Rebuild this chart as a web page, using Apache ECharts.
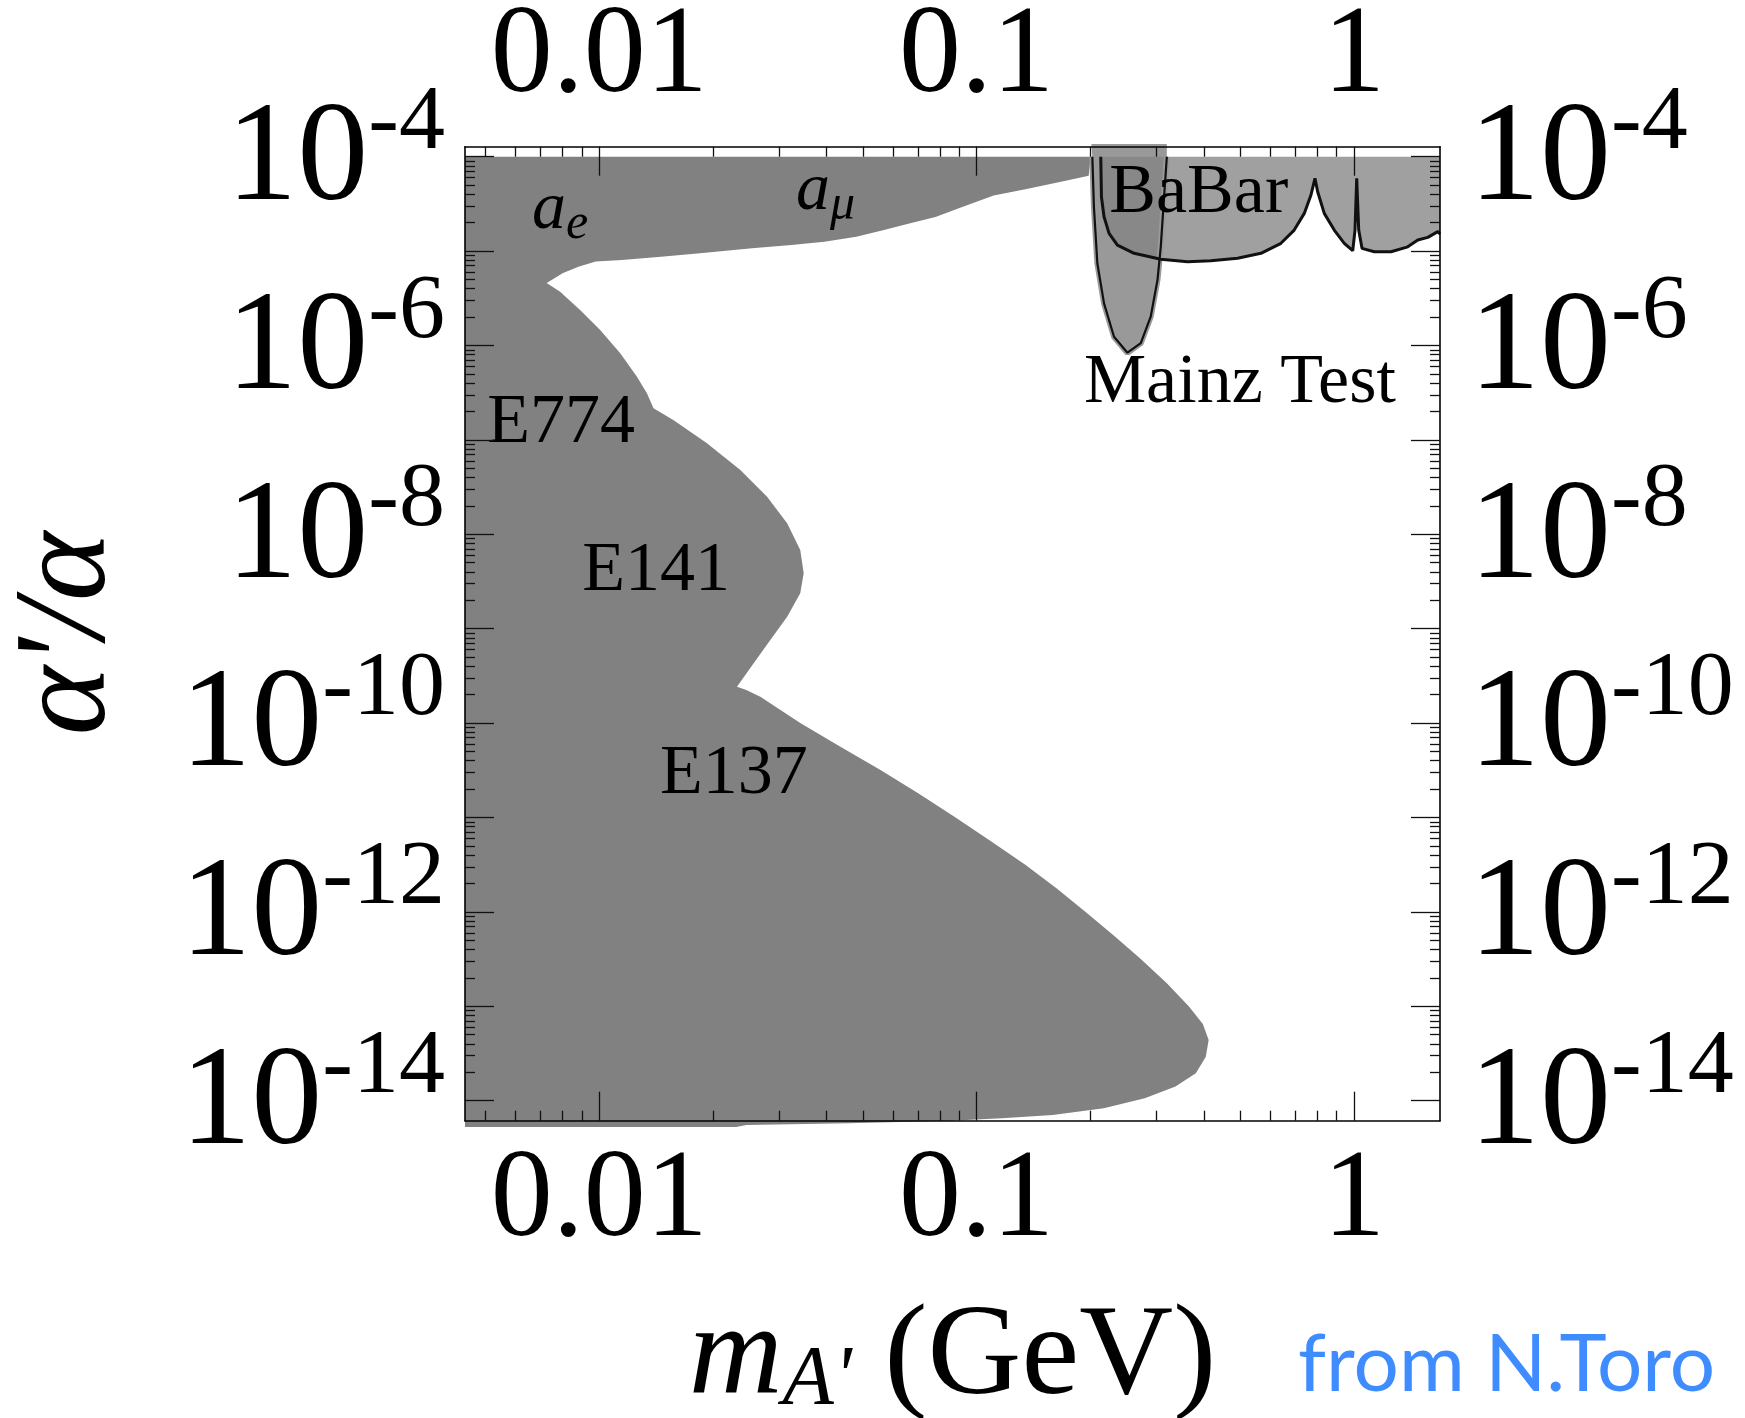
<!DOCTYPE html>
<html><head><meta charset="utf-8">
<script src="https://cdn.jsdelivr.net/npm/echarts@6/dist/echarts.min.js"></script>
<style>html,body{margin:0;padding:0;background:#fff;}#c{width:1745px;height:1418px;}</style>
</head><body><div id="c"></div>
<script>
// ---------- axes ----------
const X_MIN = 0.00441, X_MAX = 1.69;
const Y_MIN = 6.14e-15, Y_MAX = 1.277e-4;
const X_MAJOR = [0.01, 0.1, 1];
const X_DECADES = [0.001, 0.01, 0.1];
const Y_MAJOR = [1e-4, 1e-5, 1e-6, 1e-7, 1e-8, 1e-9, 1e-10, 1e-11, 1e-12, 1e-13, 1e-14];
const Y_LABELED = [1e-4, 1e-6, 1e-8, 1e-10, 1e-12, 1e-14];
const MANTISSA = [2, 3, 4, 5, 6, 7, 8, 9];

// ---------- excluded region: a_e, a_mu, E774, E141, E137 (outer boundary) ----------
const MAIN_M = [X_MIN, 0.2006, 0.1982, 0.1722, 0.1357, 0.1110, 0.0912, 0.0778, 0.0663, 0.0565, 0.0480,
  0.0395, 0.0323, 0.0254, 0.0185, 0.01458, 0.01148, 0.00979, 0.00885, 0.00802, 0.00726,
  0.00788, 0.0089, 0.01006, 0.01137, 0.01259, 0.01338, 0.01393, 0.01575, 0.0193, 0.02366,
  0.02785, 0.03148, 0.0341, 0.03482, 0.0341, 0.03148, 0.02841, 0.02566, 0.02318,
  0.02454, 0.02673, 0.0341, 0.04357, 0.05564, 0.07018, 0.08797, 0.1089, 0.1349, 0.1631, 0.1945,
  0.2309, 0.2723, 0.3192, 0.3649, 0.3976, 0.4120, 0.4049, 0.3810, 0.3365, 0.2790, 0.2172,
  0.1591, 0.1165, 0.0853, 0.04575, 0.02454, 0.02308, X_MIN];
const MAIN_A = [1e-4, 1e-4, 6.29e-5, 5.57e-5, 4.56e-5, 3.88e-5, 2.92e-5, 2.30e-5, 1.96e-5, 1.66e-5, 1.42e-5,
  1.26e-5, 1.16e-5, 1.07e-5, 9.48e-6, 8.74e-6, 8.07e-6, 7.74e-6, 6.87e-6, 5.85e-6, 4.59e-6,
  3.71e-6, 2.38e-6, 1.46e-6, 8.27e-7, 4.67e-7, 3.12e-7, 2.16e-7, 1.62e-7, 9.2e-8, 4.8e-8,
  2.5e-8, 1.31e-8, 6.82e-9, 3.86e-9, 2.37e-9, 1.34e-9, 7.59e-10, 4.3e-10, 2.43e-10,
  2.24e-10, 1.90e-10, 1e-10, 5.62e-11, 3.18e-11, 1.80e-11, 1e-11, 5.64e-12, 3.14e-12, 1.77e-12, 1e-12,
  5.62e-13, 3.17e-13, 1.76e-13, 1e-13, 6.49e-14, 4.4e-14, 2.92e-14, 1.95e-14, 1.41e-14, 1.06e-14, 8.31e-15,
  7.06e-15, 6.51e-15, 6.14e-15, 5.76e-15, 5.53e-15, 5.26e-15, 5.26e-15];

// ---------- Mainz test (projected) ----------
const MAINZ_M = [0.2014, 0.2026, 0.2046, 0.2089, 0.2176, 0.2313, 0.2510, 0.2723, 0.2893, 0.3015, 0.3076, 0.3139, 0.3192, 0.3192];
const MAINZ_A = [1.365e-4, 1e-4, 2.95e-5, 7.43e-6, 2.80e-6, 1.24e-6, 8.39e-7, 1.06e-6, 2.02e-6, 4.94e-6, 1.11e-5, 3.77e-5, 1e-4, 1.365e-4];

// ---------- BaBar bound ----------
const BABAR_M = [0.2133, 0.2142, 0.2176, 0.2244, 0.2361, 0.2615, 0.3076, 0.3622, 0.4175, 0.4914, 0.5668,
  0.6403, 0.6944, 0.7383, 0.7691, 0.7881, 0.8012, 0.8341, 0.8865, 0.9425, 0.9922, 1.0062, 1.0167,
  1.0292, 1.0501, 1.1318, 1.2535, 1.3879, 1.4757, 1.5690, 1.6672, 1.69];
const BABAR_A = [1e-4, 3.77e-5, 2.31e-5, 1.54e-5, 1.16e-5, 9.48e-6, 8.19e-6, 7.72e-6, 7.91e-6, 8.39e-6, 9.48e-6,
  1.21e-5, 1.67e-5, 2.51e-5, 3.93e-5, 5.9e-5, 4.26e-5, 2.51e-5, 1.67e-5, 1.21e-5, 1.01e-5, 1.67e-5, 5.9e-5,
  1.67e-5, 1.07e-5, 9.85e-6, 9.85e-6, 1.11e-5, 1.31e-5, 1.40e-5, 1.61e-5, 1.52e-5];

// ---------- region labels ----------
const LABEL_TEXT = ['{a|a}{s|e}', '{a|a}{s|μ}', 'BaBar', 'Mainz Test', 'E774', 'E141', 'E137'];
const LABEL_M = [0.00788, 0.03977, 0.3879, 0.4984, 0.00793, 0.01416, 0.02274];
const LABEL_A = [2.55e-5, 4.0e-5, 4.06e-5, 3.96e-7, 1.49e-7, 3.99e-9, 2.82e-11];

const SERIF = 'Liberation Serif';
const xMinor = [].concat(...X_DECADES.map(d => MANTISSA.map(k => +(k * d).toPrecision(3))));
const yMinor = [].concat(...Y_MAJOR.slice(1).map(d => MANTISSA.map(k => +(k * d).toPrecision(3))));

function pairs(M, A) { return M.map((m, i) => [m, A[i]]); }
function polygonSeries(M, A, style, z) {
  return {
    type: 'custom', z: z, clip: false, silent: true, animation: false,
    xAxisIndex: 0, yAxisIndex: 0,
    data: pairs(M, A),
    renderItem: function (params, api) {
      if (params.dataIndex !== 0) return null;
      const p = M.map((m, i) => api.coord([m, A[i]]));
      return { type: 'polygon', shape: { points: p }, style: style };
    }
  };
}

const tickLine = { color: '#111', width: 1.3 };
const frameLine = { show: true, onZero: false, lineStyle: { color: '#000', width: 1.6 } };
const yRich = {
  b: { fontFamily: SERIF, fontSize: 142, verticalAlign: 'middle', color: '#000' },
  e: { fontFamily: SERIF, fontSize: 92, lineHeight: 168, verticalAlign: 'top', color: '#000' }
};
function yFmt(v) {
  const e = Math.round(Math.log10(v));
  return '{b|10}{e|-' + Math.abs(e) + '}';
}
function xFmt(v) { return String(+(+v).toPrecision(3)); }
const xLab = { fontFamily: SERIF, fontSize: 124, color: '#000' };

function xAxis(pos, major, extra) {
  return Object.assign({
    type: 'log', logBase: 10, min: X_MIN, max: X_MAX, position: pos, gridIndex: 0, z: 10,
    axisLine: major ? frameLine : { show: false },
    axisTick: { show: true, inside: true, length: major ? 29 : 10, customValues: major ? X_MAJOR : xMinor, lineStyle: tickLine },
    axisLabel: major ? Object.assign({ customValues: X_MAJOR, formatter: xFmt, margin: pos === 'top' ? 26 : 20 }, xLab) : { show: false },
    splitLine: { show: false }, minorTick: { show: false }, axisPointer: { show: false }
  }, extra || {});
}
function yAxis(pos, major, extra) {
  return Object.assign({
    type: 'log', logBase: 10, min: Y_MIN, max: Y_MAX, position: pos, gridIndex: 0, z: 10,
    axisLine: major ? frameLine : { show: false },
    axisTick: { show: true, inside: true, length: major ? 29 : 10, customValues: major ? Y_MAJOR : yMinor, lineStyle: tickLine },
    axisLabel: major ? { customValues: Y_LABELED, formatter: yFmt, rich: yRich, padding: [10, 0, 0, 0], margin: pos === 'left' ? 20 : 29 } : { show: false },
    splitLine: { show: false }, minorTick: { show: false }, axisPointer: { show: false }
  }, extra || {});
}

const option = {
  backgroundColor: '#fff',
  animation: false,
  grid: { left: 465, top: 146.7, right: 305, bottom: 297.3, containLabel: false, outerBoundsMode: 'none' },
  xAxis: [
    xAxis('bottom', true, {
      name: "{m|m}{s|A'}{n| (GeV)}", nameLocation: 'middle', nameGap: 173,
      nameTextStyle: { rich: {
        m: { fontFamily: SERIF, fontStyle: 'italic', fontSize: 130, lineHeight: 130, verticalAlign: 'top', color: '#000' },
        s: { fontFamily: SERIF, fontStyle: 'italic', fontSize: 84, lineHeight: 66, verticalAlign: 'bottom', color: '#000' },
        n: { fontFamily: SERIF, fontSize: 130, lineHeight: 130, verticalAlign: 'top', color: '#000' }
      } }
    }),
    xAxis('top', true),
    xAxis('bottom', false),
    xAxis('top', false)
  ],
  yAxis: [
    yAxis('left', true, {
      name: "α'/α", nameLocation: 'middle', nameRotate: 90, nameGap: 330,
      nameTextStyle: { fontFamily: SERIF, fontStyle: 'italic', fontSize: 132, color: '#000' }
    }),
    yAxis('right', true),
    yAxis('left', false),
    yAxis('right', false)
  ],
  graphic: [{
    type: 'text', left: 1298, top: 1325, z: 20,
    style: { text: 'from N.Toro', font: '80px Lato', fill: '#3f8cff' }
  }],
  series: [
    polygonSeries(MAIN_M, MAIN_A, { fill: '#818181' }, 2),
    polygonSeries(BABAR_M.concat([X_MAX]), BABAR_A.concat([1e-4]), { fill: '#a0a0a0' }, 3),
    polygonSeries(MAINZ_M, MAINZ_A, { fill: 'rgba(131,131,131,0.82)' }, 4),
    { type: 'line', z: 5, data: pairs(MAINZ_M.slice(1, -1), MAINZ_A.slice(1, -1)), symbol: 'none', silent: true,
      lineStyle: { color: '#9a9a9a', width: 6 }, clip: false },
    { type: 'line', z: 5, data: pairs(MAINZ_M.slice(1, -1), MAINZ_A.slice(1, -1)), symbol: 'none', silent: true,
      lineStyle: { color: '#111', width: 2.2 }, clip: false },
    { type: 'line', z: 6, data: pairs(BABAR_M, BABAR_A), symbol: 'none', silent: true,
      lineStyle: { color: '#111', width: 3 } },
    {
      type: 'custom', z: 7, clip: false, silent: true,
      data: LABEL_M.map((m, i) => [m, LABEL_A[i], i]),
      renderItem: function (params, api) {
        const i = params.dataIndex;
        const c = api.coord([LABEL_M[i], LABEL_A[i]]);
        return {
          type: 'text',
          style: {
            x: c[0], y: c[1], text: LABEL_TEXT[i], align: 'center', verticalAlign: 'middle',
            fill: '#000', font: '70px "Liberation Serif"',
            rich: {
              a: { fontFamily: SERIF, fontStyle: 'italic', fontSize: 68, lineHeight: 74, verticalAlign: 'top', fill: '#000' },
              s: { fontFamily: SERIF, fontStyle: 'italic', fontSize: 50, verticalAlign: 'bottom', fill: '#000' }
            }
          }
        };
      }
    }
  ]
};
const chart = echarts.init(document.getElementById('c'));
chart.setOption(option);
</script></body></html>
